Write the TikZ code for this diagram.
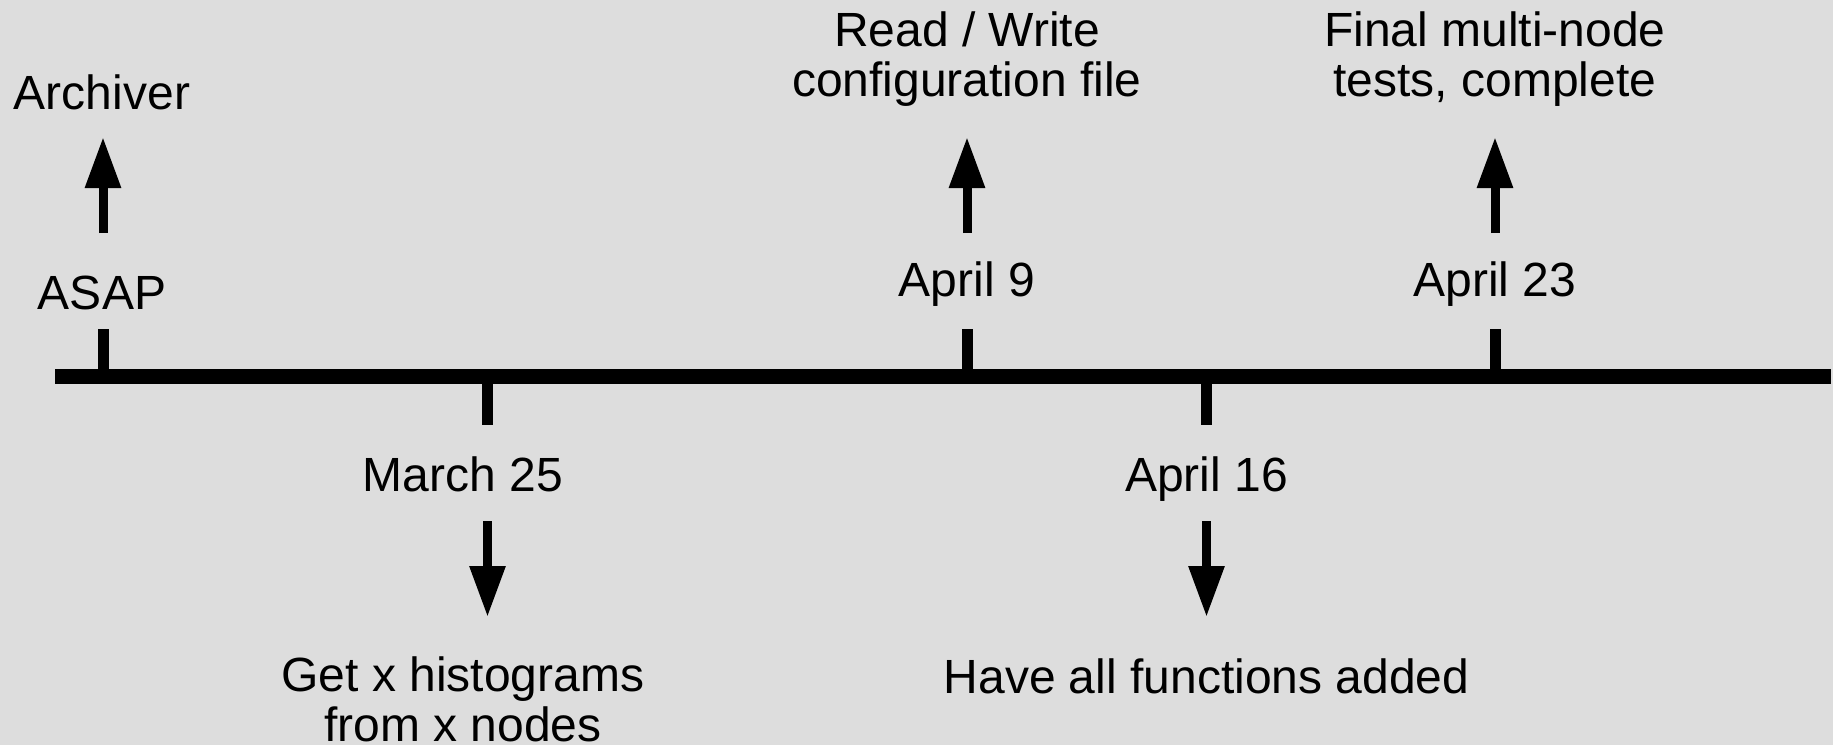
\documentclass[tikz,border=0pt]{standalone}
\usepackage{fontspec}
\setmainfont{Liberation Sans}
\usetikzlibrary{arrows.meta}
\definecolor{bg}{RGB}{221,221,221}
\begin{document}
\begin{tikzpicture}[x=0.5pt,y=-0.5pt,
  lbl/.style={anchor=base,inner sep=0pt,align=center,font=\fontsize{24}{25}\selectfont},
  axis/.style={line width=7.5pt},
  tick/.style={line width=5.5pt},
  bigarrow/.style={line width=4.5pt,-{Triangle[length=25.5pt,width=17pt]}}]
\fill[bg] (0,0) rectangle (1833,745);
\useasboundingbox (0,0) rectangle (1833,745);
% main axis
\coordinate (L) at (55,376.5);
\coordinate (R) at (1831,376.5);
\draw[axis] (L) -- (R);
% ticks
\coordinate (t1a) at (103,376); \coordinate (t1b) at (103,329);
\coordinate (t2a) at (487.5,377); \coordinate (t2b) at (487.5,425);
\coordinate (t3a) at (967,376); \coordinate (t3b) at (967,329);
\coordinate (t4a) at (1206.5,377); \coordinate (t4b) at (1206.5,425);
\coordinate (t5a) at (1495,376); \coordinate (t5b) at (1495,329);
\draw[tick] (t1a) -- (t1b);
\draw[tick] (t2a) -- (t2b);
\draw[tick] (t3a) -- (t3b);
\draw[tick] (t4a) -- (t4b);
\draw[tick] (t5a) -- (t5b);
% labels (multi-line nodes: base is the last line)
\node[lbl] (archiver) at (102,109) {Archiver};
\node[lbl] (asap) at (102,309) {ASAP};
\node[lbl] (rw) at (967,96) {Read / Write\\configuration file};
\node[lbl] (apr9) at (967,296) {April 9};
\node[lbl] (final) at (1495,96) {Final multi-node\\tests, complete};
\node[lbl] (apr23) at (1495,296) {April 23};
\node[lbl] (mar25) at (463,491) {March 25};
\node[lbl] (hist) at (463,741) {Get x histograms\\from x nodes};
\node[lbl] (apr16) at (1206.5,491) {April 16};
\node[lbl] (funcs) at (1206.5,693) {Have all functions added};
% arrows
\coordinate (a1s) at (103,233); \coordinate (a1e) at (103,137);
\coordinate (a2s) at (487.5,521); \coordinate (a2e) at (487.5,617);
\coordinate (a3s) at (967,233); \coordinate (a3e) at (967,137);
\coordinate (a4s) at (1206.5,521); \coordinate (a4e) at (1206.5,617);
\coordinate (a5s) at (1495,233); \coordinate (a5e) at (1495,137);
\draw[bigarrow] (a1s) -- (a1e);
\draw[bigarrow] (a2s) -- (a2e);
\draw[bigarrow] (a3s) -- (a3e);
\draw[bigarrow] (a4s) -- (a4e);
\draw[bigarrow] (a5s) -- (a5e);
\end{tikzpicture}
\end{document}
